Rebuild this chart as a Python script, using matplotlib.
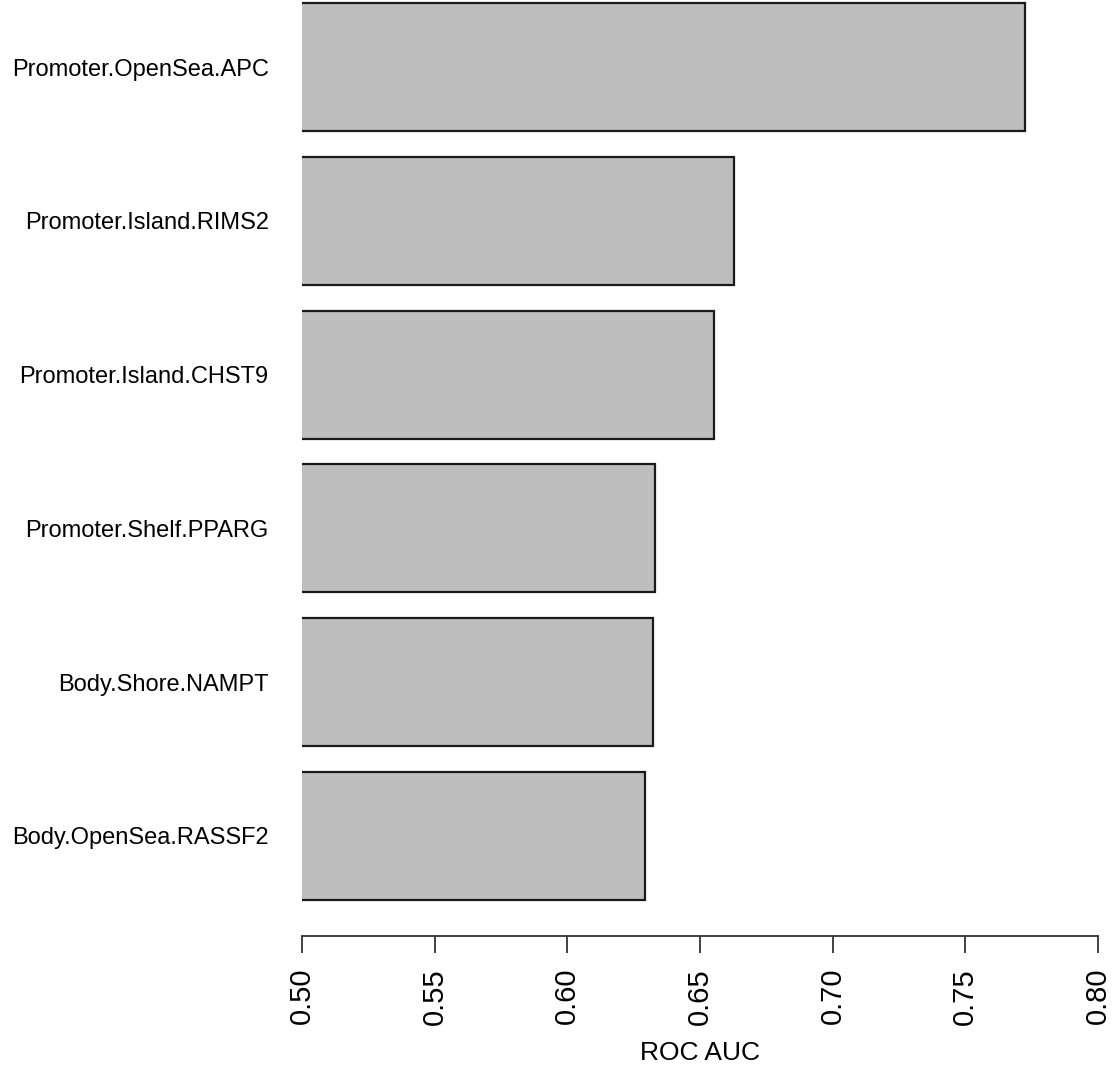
import numpy as np
import matplotlib
matplotlib.use('Agg')
import matplotlib.pyplot as plt

# probes, bottom to top (as R barplot horiz draws them)
probes = ['Body.OpenSea.RASSF2', 'Body.Shore.NAMPT', 'Promoter.Shelf.PPARG',
          'Promoter.Island.CHST9', 'Promoter.Island.RIMS2', 'Promoter.OpenSea.APC']
auc = [0.6293, 0.6323, 0.6331, 0.6553, 0.6628, 0.7725]
xticks = [0.50, 0.55, 0.60, 0.65, 0.70, 0.75, 0.80]

plt.rcParams['font.family'] = ['Liberation Sans', 'DejaVu Sans']

W, H = 1113, 1073
fig = plt.figure(figsize=(W / 100, H / 100), dpi=100)
ax = fig.add_axes([302 / W, (H - 936) / H, (1098 - 302) / W, 936 / H])

# R barplot layout: width 1, space 0.2
pos = 0.7 + 1.2 * np.arange(len(probes))
ax.barh(pos, auc, height=1.0, color='#bebebe', edgecolor='#1a1a1a', linewidth=1.6)

ax.set_xlim(0.5, 0.8)
ax.set_ylim(-0.081, 7.223)

ax.set_yticks(pos)
ax.set_yticklabels(probes, fontsize=17)
ax.tick_params(axis='y', length=0, pad=24)

ax.set_xticks(xticks)
ax.set_xticklabels(['%.2f' % t for t in xticks], rotation=90, fontsize=21)
ax.tick_params(axis='x', length=12, width=1.3, pad=11, color='#333333')
ax.set_xlabel('ROC AUC', fontsize=19, labelpad=12)

for s in ['top', 'right', 'left']:
    ax.spines[s].set_visible(False)
ax.spines['bottom'].set_linewidth(1.3)
ax.spines['bottom'].set_color('#333333')

fig.savefig('out.png', dpi=100)
